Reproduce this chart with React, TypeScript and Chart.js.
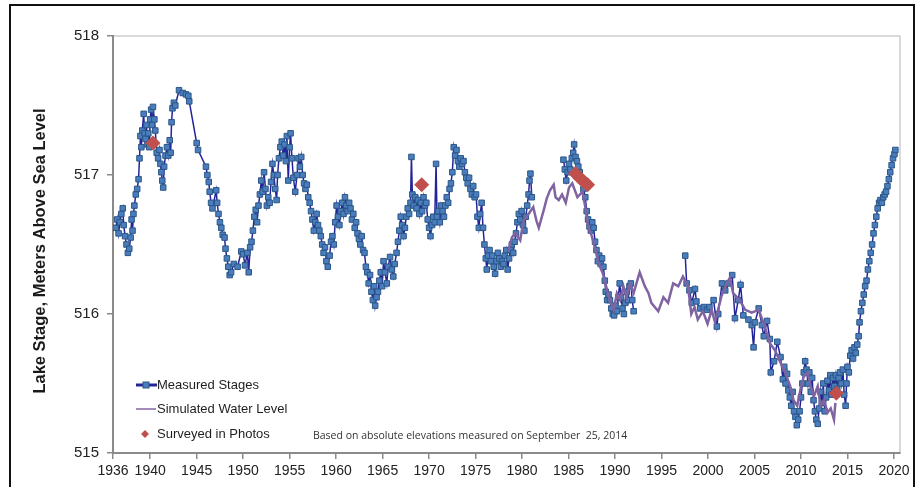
import { useEffect, useRef } from 'react';
import { Chart, registerables } from 'chart.js';

Chart.register(...registerables);

// Measured lake stage as [decimal year, metres above sea level], one array per unbroken stretch of record
const measured1936to1981: [number, number][] = [
  [1936.3, 516.62], [1936.45, 516.68], [1936.6, 516.58], [1936.75, 516.66], [1936.9, 516.72],
  [1937.05, 516.76], [1937.15, 516.64], [1937.3, 516.56], [1937.45, 516.5], [1937.6, 516.44],
  [1937.75, 516.47], [1937.9, 516.55], [1938.0, 516.68], [1938.1, 516.6], [1938.2, 516.72],
  [1938.3, 516.78], [1938.45, 516.86], [1938.6, 516.9], [1938.75, 516.97], [1938.85, 517.12],
  [1938.95, 517.28], [1939.05, 517.2], [1939.15, 517.32], [1939.3, 517.44], [1939.4, 517.3],
  [1939.5, 517.26], [1939.6, 517.36], [1939.7, 517.22], [1939.8, 517.3], [1939.9, 517.2],
  [1940.0, 517.4], [1940.1, 517.47], [1940.2, 517.36], [1940.3, 517.49], [1940.45, 517.4],
  [1940.55, 517.32], [1940.7, 517.16], [1940.85, 517.12], [1941.0, 517.18], [1941.1, 517.08],
  [1941.2, 517.02], [1941.3, 516.96], [1941.4, 516.91], [1941.5, 517.06], [1941.65, 517.14],
  [1941.8, 517.2], [1941.95, 517.14], [1942.1, 517.25], [1942.2, 517.16], [1942.3, 517.38],
  [1942.4, 517.48], [1942.55, 517.52], [1942.7, 517.5], [1943.1, 517.61], [1943.5, 517.59],
  [1943.85, 517.58], [1944.1, 517.57], [1944.2, 517.53], [1945.0, 517.23], [1945.15, 517.18],
  [1946.0, 517.06], [1946.15, 517.0], [1946.3, 516.95], [1946.4, 516.88], [1946.55, 516.8],
  [1946.7, 516.76], [1947.1, 516.89], [1947.2, 516.8], [1947.35, 516.72], [1947.5, 516.66],
  [1947.65, 516.62], [1947.8, 516.57], [1948.0, 516.55], [1948.1, 516.47], [1948.25, 516.4],
  [1948.4, 516.34], [1948.55, 516.28], [1948.7, 516.3], [1949.0, 516.36], [1949.4, 516.34],
  [1949.8, 516.45], [1950.0, 516.43], [1950.2, 516.35], [1950.45, 516.44], [1950.6, 516.3],
  [1950.75, 516.48], [1950.9, 516.52], [1951.05, 516.6], [1951.2, 516.7], [1951.35, 516.75],
  [1951.5, 516.66], [1951.65, 516.78], [1951.8, 516.86], [1951.95, 516.96], [1952.1, 516.88],
  [1952.25, 517.02], [1952.4, 516.9], [1952.55, 516.78], [1952.7, 516.84], [1952.85, 516.8],
  [1953.0, 516.95], [1953.15, 517.08], [1953.3, 517.0], [1953.45, 516.9], [1953.6, 516.82],
  [1953.7, 517.0], [1953.85, 517.12], [1954.0, 517.2], [1954.15, 517.24], [1954.3, 517.14],
  [1954.45, 517.22], [1954.6, 517.1], [1954.7, 517.28], [1954.85, 516.96], [1955.0, 517.2],
  [1955.1, 517.3], [1955.25, 517.12], [1955.4, 516.98], [1955.6, 516.88], [1955.8, 517.0],
  [1955.95, 517.12], [1956.1, 517.06], [1956.25, 517.13], [1956.4, 517.0], [1956.55, 516.94],
  [1956.7, 516.9], [1956.85, 516.93], [1957.0, 516.84], [1957.15, 516.8], [1957.3, 516.74],
  [1957.45, 516.68], [1957.6, 516.6], [1957.75, 516.66], [1957.9, 516.72], [1958.05, 516.64],
  [1958.2, 516.6], [1958.35, 516.56], [1958.5, 516.5], [1958.65, 516.44], [1958.8, 516.48],
  [1958.95, 516.38], [1959.1, 516.34], [1959.3, 516.42], [1959.45, 516.52], [1959.6, 516.56],
  [1959.75, 516.5], [1959.9, 516.66], [1960.05, 516.78], [1960.2, 516.7], [1960.35, 516.64],
  [1960.5, 516.74], [1960.65, 516.8], [1960.8, 516.72], [1960.95, 516.84], [1961.1, 516.78],
  [1961.25, 516.74], [1961.4, 516.8], [1961.55, 516.76], [1961.7, 516.68], [1961.85, 516.72],
  [1962.0, 516.62], [1962.15, 516.66], [1962.3, 516.58], [1962.45, 516.54], [1962.6, 516.5],
  [1962.75, 516.56], [1962.9, 516.46], [1963.05, 516.44], [1963.2, 516.34], [1963.35, 516.3],
  [1963.5, 516.22], [1963.65, 516.28], [1963.8, 516.16], [1963.95, 516.1], [1964.1, 516.2],
  [1964.2, 516.06], [1964.35, 516.12], [1964.5, 516.16], [1964.65, 516.24], [1964.8, 516.3],
  [1964.95, 516.2], [1965.1, 516.38], [1965.25, 516.3], [1965.45, 516.22], [1965.6, 516.34],
  [1965.8, 516.41], [1966.0, 516.32], [1966.15, 516.27], [1966.3, 516.36], [1966.5, 516.44],
  [1966.65, 516.52], [1966.8, 516.6], [1966.95, 516.7], [1967.1, 516.64], [1967.25, 516.56],
  [1967.4, 516.62], [1967.55, 516.7], [1967.7, 516.76], [1967.85, 516.72], [1968.0, 516.8],
  [1968.1, 517.13], [1968.2, 516.86], [1968.35, 516.78], [1968.5, 516.84], [1968.65, 516.76],
  [1968.8, 516.82], [1968.95, 516.72], [1969.1, 516.8], [1969.25, 516.74], [1969.4, 516.84],
  [1969.55, 516.78], [1969.7, 516.8], [1969.85, 516.68], [1970.0, 516.62], [1970.15, 516.56],
  [1970.3, 516.64], [1970.45, 516.7], [1970.6, 516.66], [1970.75, 517.08], [1970.85, 516.7],
  [1971.0, 516.74], [1971.15, 516.66], [1971.3, 516.78], [1971.45, 516.74], [1971.6, 516.7],
  [1971.75, 516.78], [1971.9, 516.84], [1972.05, 516.8], [1972.2, 516.9], [1972.35, 516.94],
  [1972.5, 517.02], [1972.65, 517.2], [1972.8, 517.14], [1972.95, 517.18], [1973.1, 517.1],
  [1973.25, 517.06], [1973.4, 517.12], [1973.55, 517.08], [1973.7, 517.1], [1973.85, 517.02],
  [1974.0, 516.98], [1974.15, 516.94], [1974.3, 516.98], [1974.45, 516.9], [1974.6, 516.86],
  [1974.75, 516.92], [1974.9, 516.84], [1975.05, 516.86], [1975.2, 516.7], [1975.35, 516.62],
  [1975.5, 516.72], [1975.65, 516.8], [1975.8, 516.62], [1975.95, 516.5], [1976.1, 516.4],
  [1976.2, 516.32], [1976.35, 516.42], [1976.5, 516.46], [1976.65, 516.38], [1976.8, 516.42],
  [1976.95, 516.34], [1977.1, 516.29], [1977.25, 516.38], [1977.4, 516.44], [1977.55, 516.4],
  [1977.7, 516.34], [1977.85, 516.38], [1978.0, 516.36], [1978.15, 516.42], [1978.3, 516.46],
  [1978.45, 516.32], [1978.6, 516.4], [1978.75, 516.46], [1978.9, 516.5], [1979.05, 516.44],
  [1979.2, 516.52], [1979.35, 516.58], [1979.5, 516.66], [1979.65, 516.72], [1979.8, 516.68],
  [1979.95, 516.74], [1980.1, 516.64], [1980.25, 516.6], [1980.4, 516.7], [1980.55, 516.78],
  [1980.7, 516.86], [1980.8, 516.96], [1980.9, 517.01], [1981.05, 516.84],
];

const measured1984to1992: [number, number][] = [
  [1984.45, 517.11], [1984.6, 517.04], [1984.75, 516.96], [1984.9, 517.02], [1985.05, 517.08],
  [1985.2, 517.04], [1985.35, 517.12], [1985.5, 517.16], [1985.6, 517.22], [1985.75, 517.13],
  [1985.9, 517.1], [1986.05, 517.06], [1986.2, 517.02], [1986.4, 516.96], [1986.6, 516.9],
  [1986.8, 516.84], [1986.95, 516.74], [1987.1, 516.68], [1987.25, 516.63], [1987.4, 516.6],
  [1987.55, 516.66], [1987.7, 516.62], [1987.85, 516.52], [1988.0, 516.46], [1988.15, 516.38],
  [1988.3, 516.42], [1988.45, 516.36], [1988.6, 516.4], [1988.75, 516.34], [1988.9, 516.24],
  [1989.0, 516.16], [1989.15, 516.1], [1989.3, 516.14], [1989.45, 516.1], [1989.6, 516.04],
  [1989.75, 516.0], [1989.9, 515.99], [1990.05, 516.06], [1990.2, 516.02], [1990.35, 516.12],
  [1990.5, 516.22], [1990.65, 516.12], [1990.8, 516.04], [1990.95, 516.0], [1991.1, 516.08],
  [1991.25, 516.16], [1991.4, 516.1], [1991.55, 516.2], [1991.7, 516.22], [1991.85, 516.1],
  [1992.0, 516.02],
];

const measured1997to2020: [number, number][] = [
  [1997.55, 516.42], [1997.7, 516.22], [1998.0, 516.17], [1998.25, 516.08], [1998.6, 516.18],
  [1998.75, 516.09], [1999.15, 516.04], [1999.55, 516.05], [1999.9, 516.03], [2000.15, 516.05],
  [2000.6, 516.1], [2000.95, 515.91], [2001.1, 516.0], [2001.5, 516.22], [2001.85, 516.17],
  [2002.2, 516.22], [2002.6, 516.28], [2002.9, 515.97], [2003.25, 516.1], [2003.5, 516.21],
  [2003.8, 515.99], [2004.35, 515.96], [2004.7, 515.92], [2004.9, 515.76], [2005.05, 515.94],
  [2005.45, 516.04], [2005.8, 515.92], [2006.0, 515.84], [2006.35, 515.95], [2006.65, 515.82],
  [2006.75, 515.58], [2007.1, 515.66], [2007.45, 515.8], [2007.8, 515.69], [2008.05, 515.53],
  [2008.2, 515.62], [2008.35, 515.5], [2008.5, 515.57], [2008.65, 515.45], [2008.8, 515.4],
  [2008.95, 515.34], [2009.1, 515.44], [2009.25, 515.3], [2009.4, 515.26], [2009.55, 515.2],
  [2009.7, 515.24], [2009.85, 515.3], [2010.0, 515.4], [2010.15, 515.5], [2010.3, 515.58],
  [2010.45, 515.66], [2010.6, 515.6], [2010.75, 515.5], [2010.9, 515.58], [2011.05, 515.44],
  [2011.2, 515.54], [2011.35, 515.38], [2011.5, 515.3], [2011.65, 515.24], [2011.8, 515.21],
  [2011.95, 515.32], [2012.1, 515.44], [2012.25, 515.36], [2012.4, 515.5], [2012.55, 515.3],
  [2012.7, 515.4], [2012.85, 515.52], [2013.0, 515.45], [2013.15, 515.56], [2013.3, 515.42],
  [2013.45, 515.54], [2013.6, 515.48], [2013.75, 515.56], [2013.9, 515.46], [2014.05, 515.54],
  [2014.2, 515.58], [2014.35, 515.5], [2014.5, 515.6], [2014.65, 515.42], [2014.8, 515.34],
  [2014.9, 515.5], [2015.0, 515.62], [2015.15, 515.58], [2015.3, 515.7], [2015.45, 515.74],
  [2015.6, 515.68], [2015.75, 515.76], [2015.9, 515.72], [2016.05, 515.78], [2016.2, 515.84],
  [2016.3, 515.94], [2016.45, 516.02], [2016.6, 516.08], [2016.75, 516.14], [2016.9, 516.2],
  [2017.05, 516.24], [2017.2, 516.32], [2017.35, 516.38], [2017.5, 516.44], [2017.65, 516.5],
  [2017.8, 516.58], [2017.95, 516.64], [2018.1, 516.7], [2018.25, 516.76], [2018.4, 516.8],
  [2018.55, 516.82], [2018.7, 516.8], [2018.85, 516.84], [2019.0, 516.86], [2019.15, 516.88],
  [2019.3, 516.92], [2019.45, 516.97], [2019.6, 517.02], [2019.75, 517.07], [2019.9, 517.12],
  [2020.05, 517.15], [2020.15, 517.18],
];

// Simulated water level
const simulatedLevel: [number, number][] = [
  [1978.5, 516.45], [1978.9, 516.55], [1979.25, 516.58], [1979.8, 516.53], [1980.15, 516.67],
  [1980.7, 516.72], [1981.2, 516.77], [1981.55, 516.67], [1981.8, 516.62], [1982.3, 516.74],
  [1982.65, 516.83], [1983.0, 516.89], [1983.4, 516.93], [1983.6, 516.84], [1983.95, 516.82],
  [1984.3, 516.86], [1984.7, 516.8], [1985.05, 516.91], [1985.4, 516.94], [1985.95, 516.84],
  [1986.5, 516.88], [1986.8, 516.77], [1987.1, 516.63], [1987.5, 516.56], [1987.9, 516.46],
  [1988.2, 516.37], [1988.7, 516.29], [1989.15, 516.17], [1989.5, 516.09], [1989.85, 516.03],
  [1990.2, 516.15], [1990.55, 516.1], [1990.9, 516.2], [1991.25, 516.12], [1991.6, 516.22],
  [1992.0, 516.15], [1992.3, 516.22], [1992.65, 516.3], [1993.2, 516.2], [1993.6, 516.15],
  [1993.9, 516.08], [1994.65, 516.02], [1995.2, 516.12], [1995.7, 516.08], [1996.25, 516.22],
  [1996.8, 516.2], [1997.3, 516.27], [1997.85, 516.2], [1998.2, 516.0], [1998.55, 516.05],
  [1998.9, 515.96], [1999.45, 516.02], [1999.95, 515.93], [2000.4, 516.03], [2000.75, 515.94],
  [2001.45, 516.13], [2002.0, 516.22], [2002.35, 516.26], [2002.7, 516.15], [2003.4, 516.1],
  [2004.0, 516.03], [2004.7, 516.01], [2005.45, 516.03], [2006.0, 515.93], [2006.65, 515.79],
  [2007.2, 515.74], [2007.8, 515.65], [2008.3, 515.58], [2008.85, 515.48], [2009.2, 515.38],
  [2009.6, 515.34], [2009.95, 515.46], [2010.3, 515.55], [2010.7, 515.58], [2011.05, 515.48],
  [2011.4, 515.41], [2011.8, 515.48], [2012.1, 515.34], [2012.5, 515.38], [2012.85, 515.29],
  [2013.2, 515.32], [2013.55, 515.24], [2013.7, 515.36],
];

// Levels surveyed in photographs
const surveyedInPhotos: [number, number][] = [
  [1940.3, 517.23], [1969.2, 516.93], [1985.75, 517.01], [1986.2, 516.98],
  [1986.6, 516.955], [1987.05, 516.93], [2013.8, 515.43],
];

const xTickYears = [1936, 1940, 1945, 1950, 1955, 1960, 1965, 1970, 1975, 1980, 1985, 1990, 1995, 2000, 2005, 2010, 2015, 2020];
const yTickLevels = [515, 516, 517, 518];

const AXIS_TITLE = 'Lake Stage, Meters Above Sea Level';
const NOTE = 'Based on absolute elevations measured on September  25, 2014';
const LEGEND_LABELS = ['Measured Stages', 'Simulated Water Level', 'Surveyed in Photos'];

const NAVY = '#23239a';
const SQUARE_FILL = '#4a7dbd';
const SQUARE_EDGE = '#2b5686';
const PURPLE = '#8064a2';
const RED = '#c0504d';
const AXIS_GREY = '#8a8a8a';
const SANS = '"Liberation Sans", Arial, sans-serif';

const toPoints = (rows: [number, number][]) => rows.map(([x, y]) => ({ x, y }));

// stretches joined with a null point so the line breaks where the record has gaps
const measuredPoints = [
  ...toPoints(measured1936to1981),
  { x: 1983, y: null },
  ...toPoints(measured1984to1992),
  { x: 1995, y: null },
  ...toPoints(measured1997to2020),
];

const decorPlugin = {
  id: 'decor',
  beforeDraw(chart: any) {
    const { ctx, chartArea: a } = chart;
    ctx.save();
    ctx.fillStyle = '#ffffff';
    ctx.fillRect(0, 0, chart.width, chart.height);
    // outer frame
    ctx.strokeStyle = '#111111';
    ctx.lineWidth = 2;
    ctx.strokeRect(10, 5, 904, 540);
    // light plot-area outline
    ctx.strokeStyle = '#cdcdcd';
    ctx.lineWidth = 1.5;
    ctx.strokeRect(a.left, a.top, a.right - a.left, a.bottom - a.top);
    ctx.restore();
  },
  afterDraw(chart: any) {
    const { ctx } = chart;
    ctx.save();

    // y-axis title
    ctx.translate(45, 251);
    ctx.rotate(-Math.PI / 2);
    ctx.font = `bold 16.5px ${SANS}`;
    ctx.fillStyle = '#1a1a1a';
    ctx.textAlign = 'center';
    ctx.textBaseline = 'alphabetic';
    ctx.fillText(AXIS_TITLE, 0, 0);
    ctx.setTransform(1, 0, 0, 1, 0, 0);

    // legend
    const rows = [385, 409, 434];
    ctx.lineCap = 'butt';
    ctx.strokeStyle = NAVY;
    ctx.lineWidth = 3;
    ctx.beginPath();
    ctx.moveTo(136, rows[0]);
    ctx.lineTo(157, rows[0]);
    ctx.stroke();
    ctx.fillStyle = SQUARE_FILL;
    ctx.strokeStyle = SQUARE_EDGE;
    ctx.lineWidth = 1;
    ctx.fillRect(143, rows[0] - 3, 6, 6);
    ctx.strokeRect(143, rows[0] - 3, 6, 6);

    ctx.strokeStyle = PURPLE;
    ctx.lineWidth = 1.5;
    ctx.beginPath();
    ctx.moveTo(136, rows[1]);
    ctx.lineTo(156, rows[1]);
    ctx.stroke();

    ctx.fillStyle = RED;
    ctx.beginPath();
    ctx.moveTo(145, rows[2] - 4);
    ctx.lineTo(149, rows[2]);
    ctx.lineTo(145, rows[2] + 4);
    ctx.lineTo(141, rows[2]);
    ctx.closePath();
    ctx.fill();

    ctx.font = `13px ${SANS}`;
    ctx.fillStyle = '#1e1e1e';
    ctx.textAlign = 'left';
    ctx.textBaseline = 'middle';
    LEGEND_LABELS.forEach((t, i) => ctx.fillText(t, 157, rows[i]));

    // note
    ctx.font = '10.5px "Open Sans", sans-serif';
    ctx.fillStyle = '#333333';
    ctx.fillText(NOTE, 313, 436);

    ctx.restore();
  },
};

export default function App() {
  const canvasRef = useRef<HTMLCanvasElement | null>(null);

  useEffect(() => {
    if (!canvasRef.current) return;
    const chart = new Chart(canvasRef.current, {
      type: 'line',
      data: {
        datasets: [
          {
            label: LEGEND_LABELS[2],
            data: toPoints(surveyedInPhotos),
            showLine: false,
            pointStyle: 'rectRot',
            pointRadius: 7.5,
            pointBackgroundColor: RED,
            pointBorderColor: RED,
            pointBorderWidth: 0,
            order: 0,
          },
          {
            label: LEGEND_LABELS[1],
            data: toPoints(simulatedLevel),
            borderColor: PURPLE,
            borderWidth: 2.5,
            pointRadius: 0,
            tension: 0,
            order: 1,
          },
          {
            label: LEGEND_LABELS[0],
            data: measuredPoints,
            borderColor: NAVY,
            borderWidth: 1.5,
            pointStyle: 'rect',
            pointRadius: 3.9,
            pointBackgroundColor: SQUARE_FILL,
            pointBorderColor: SQUARE_EDGE,
            pointBorderWidth: 1,
            spanGaps: false,
            tension: 0,
            order: 2,
          },
        ],
      },
      options: {
        responsive: false,
        animation: false,
        devicePixelRatio: 1,
        events: [],
        layout: { padding: { left: 0, top: 36, right: 17, bottom: 0 } },
        plugins: { legend: { display: false }, tooltip: { enabled: false }, title: { display: false } },
        scales: {
          x: {
            type: 'linear',
            min: 1936,
            max: 2020.65,
            afterBuildTicks: (axis: any) => {
              axis.ticks = xTickYears.map((v) => ({ value: v }));
            },
            afterFit: (axis: any) => {
              axis.height = 34;
            },
            grid: { drawOnChartArea: false, drawTicks: true, tickLength: 6, color: AXIS_GREY, lineWidth: 1.5 },
            border: { display: true, color: AXIS_GREY, width: 2 },
            ticks: {
              autoSkip: false,
              maxRotation: 0,
              padding: 4,
              color: '#222222',
              font: { family: SANS, size: 14 },
              callback: (v: any) => String(v),
            },
          },
          y: {
            type: 'linear',
            min: 515,
            max: 518,
            afterBuildTicks: (axis: any) => {
              axis.ticks = yTickLevels.map((v) => ({ value: v }));
            },
            afterFit: (axis: any) => {
              axis.width = 113;
            },
            grid: { drawOnChartArea: false, drawTicks: true, tickLength: 6, color: AXIS_GREY, lineWidth: 1.5 },
            border: { display: true, color: AXIS_GREY, width: 2 },
            ticks: {
              padding: 8,
              color: '#222222',
              font: { family: SANS, size: 15 },
              callback: (v: any) => String(v),
            },
          },
        },
      },
      plugins: [decorPlugin],
    } as any);
    return () => chart.destroy();
  }, []);

  return (
    <div style={{ position: 'absolute', left: 0, top: 0, width: 917, height: 487, background: '#fff' }}>
      <canvas ref={canvasRef} width={917} height={487} style={{ display: 'block' }} />
    </div>
  );
}
